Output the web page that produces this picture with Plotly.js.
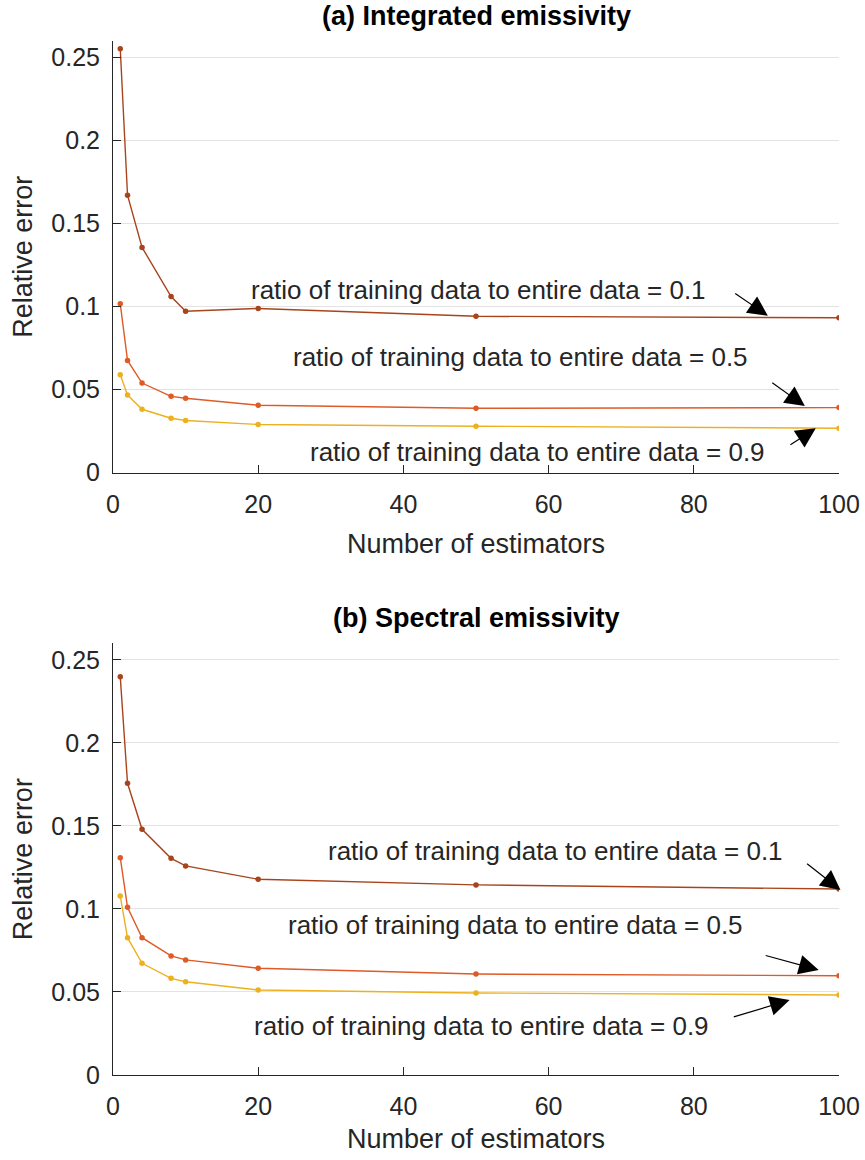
<!DOCTYPE html>
<html>
<head>
<meta charset="utf-8">
<script src="https://cdn.plot.ly/plotly-3.0.1.min.js"></script>
<style>html,body{margin:0;padding:0;background:#fff;}#chart{width:865px;height:1160px;}</style>
</head>
<body>
<div id="chart"></div>
<script>
// ---- data ----
const estimators = [1, 2, 4, 8, 10, 20, 50, 100];
const ratioLabels = ['0.1', '0.5', '0.9'];
// (a) Integrated emissivity
const integ_r01 = [0.2553, 0.1671, 0.1357, 0.1061, 0.0972, 0.0989, 0.0942, 0.0933];
const integ_r05 = [0.1017, 0.0676, 0.0540, 0.0460, 0.0448, 0.0406, 0.0388, 0.0392];
const integ_r09 = [0.0590, 0.0468, 0.0382, 0.0328, 0.0314, 0.0290, 0.0280, 0.0268];
// (b) Spectral emissivity
const spec_r01 = [0.2398, 0.1757, 0.1480, 0.1305, 0.1259, 0.1179, 0.1145, 0.1120];
const spec_r05 = [0.1309, 0.1010, 0.0827, 0.0717, 0.0693, 0.0643, 0.0608, 0.0598];
const spec_r09 = [0.1078, 0.0827, 0.0673, 0.0582, 0.0562, 0.0512, 0.0494, 0.0482];
const yTickVals = [0, 0.05, 0.1, 0.15, 0.2, 0.25];
const yTickText = ['0', '0.05', '0.1', '0.15', '0.2', '0.25'];
const xTickVals = [0, 20, 40, 60, 80, 100];
const titles = ['(a) Integrated emissivity', '(b) Spectral emissivity'];

const colors = ['#A8441C', '#DE5A26', '#EDB120'];
const FONT = 'Liberation Sans, Arial, Helvetica, sans-serif';
const txtColor = '#262626';

function trace(y, ci, xa, ya) {
  return {
    x: estimators, y: y, xaxis: xa, yaxis: ya, type: 'scatter', mode: 'lines+markers',
    line: {color: colors[ci], width: 1.4},
    marker: {color: colors[ci], size: 5.5},
    hoverinfo: 'x+y', showlegend: false
  };
}

const data = [
  trace(integ_r01, 0, 'x', 'y'),
  trace(integ_r05, 1, 'x', 'y'),
  trace(integ_r09, 2, 'x', 'y'),
  trace(spec_r01, 0, 'x2', 'y2'),
  trace(spec_r05, 1, 'x2', 'y2'),
  trace(spec_r09, 2, 'x2', 'y2')
];

function xax(anchor, standoff) {
  return {
    anchor: anchor, domain: [0, 1], range: [0, 100], tickvals: xTickVals,
    ticks: 'inside', ticklen: 8, tickcolor: txtColor, tickwidth: 1,
    showline: true, linecolor: txtColor, linewidth: 1, showgrid: false, zeroline: false,
    tickfont: {family: FONT, size: 25, color: txtColor}, ticklabelstandoff: 9,
    title: {text: 'Number of estimators', font: {family: FONT, size: 27, color: txtColor}, standoff: standoff}
  };
}
function yax(anchor, domain) {
  return {
    anchor: anchor, domain: domain, range: [0, 0.26], tickvals: yTickVals, ticktext: yTickText,
    ticks: 'inside', ticklen: 8, tickcolor: txtColor, tickwidth: 1,
    showline: true, linecolor: txtColor, linewidth: 1, showgrid: true, gridcolor: '#e3e3e3', gridwidth: 1,
    zeroline: false,
    tickfont: {family: FONT, size: 25, color: txtColor}, ticklabelstandoff: 7,
    title: {text: 'Relative error', font: {family: FONT, size: 27, color: txtColor}, standoff: 10}
  };
}

const labelText = r => 'ratio of training data to entire data = ' + r;
function label(xref, yref, x, y, r) {
  return {xref: xref, yref: yref, x: x, y: y, text: labelText(r), showarrow: false,
    font: {family: FONT, size: 26, color: txtColor}, xanchor: 'center', yanchor: 'middle'};
}
function arrow(xref, yref, x, y, ax, ay) {
  return {xref: xref, yref: yref, axref: xref, ayref: yref, x: x, y: y, ax: ax, ay: ay, text: '',
    showarrow: true, arrowhead: 2, arrowsize: 3.3, arrowwidth: 1.2, arrowcolor: '#000', standoff: 0, startstandoff: 0};
}
function title(xd, yd, t) {
  return {xref: xd, yref: yd, x: 0.5, y: 1, xanchor: 'center', yanchor: 'bottom', yshift: 8,
    text: '<b>' + t + '</b>', showarrow: false, font: {family: FONT, size: 27, color: '#000'}};
}

const annotations = [
  title('x domain', 'y domain', titles[0]),
  title('x2 domain', 'y2 domain', titles[1]),
  label('x', 'y', 50.4, 0.1099, ratioLabels[0]),
  label('x', 'y', 56.1, 0.0696, ratioLabels[1]),
  label('x', 'y', 58.5, 0.0124, ratioLabels[2]),
  arrow('x', 'y', 90.2, 0.0945, 85.5, 0.1086),
  arrow('x', 'y', 95.3, 0.0401, 90.6, 0.0548),
  arrow('x', 'y', 96.8, 0.0267, 93.1, 0.0162),
  label('x2', 'y2', 61.0, 0.1349, ratioLabels[0]),
  label('x2', 'y2', 55.4, 0.0903, ratioLabels[1]),
  label('x2', 'y2', 50.7, 0.0295, ratioLabels[2]),
  arrow('x2', 'y2', 100.2, 0.1114, 95.4, 0.1280),
  arrow('x2', 'y2', 97.2, 0.0632, 89.7, 0.0722),
  arrow('x2', 'y2', 93.2, 0.0451, 85.3, 0.0347)
];

const layout = {
  width: 865, height: 1160,
  margin: {l: 113, r: 26, t: 41, b: 85},
  paper_bgcolor: '#fff', plot_bgcolor: '#fff',
  font: {family: FONT, color: txtColor},
  xaxis: xax('y', 17),
  yaxis: yax('x', [0.5825, 1]),
  xaxis2: xax('y2', 10),
  yaxis2: yax('x2', [0, 0.4175]),
  annotations: annotations,
  showlegend: false
};

Plotly.newPlot('chart', data, layout, {displayModeBar: false, staticPlot: true});
</script>
</body>
</html>
